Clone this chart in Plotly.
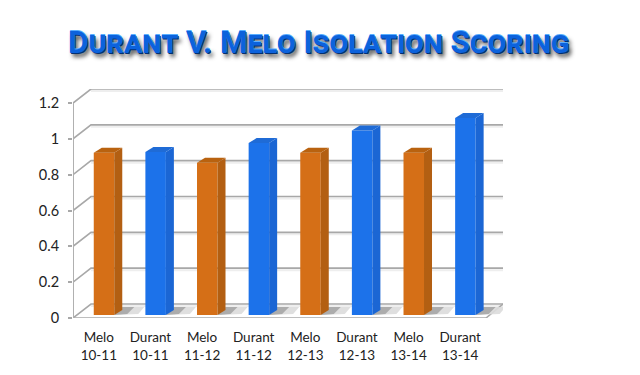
import plotly.graph_objects as go

players = ["Melo", "Durant", "Melo", "Durant", "Melo", "Durant", "Melo", "Durant"]
seasons = ["10-11", "10-11", "11-12", "11-12", "12-13", "12-13", "13-14", "13-14"]
values = [0.905, 0.91, 0.85, 0.96, 0.905, 1.03, 0.905, 1.10]
colors_front = ["#d56f17", "#1c72ea"]
colors_side = ["#b35f12", "#1b66d4"]
colors_top = ["#b9620f", "#1f6bd6"]
y_ticks = [0, 0.2, 0.4, 0.6, 0.8, 1, 1.2]
y_tick_labels = ["0", "0.2", "0.4", "0.6", "0.8", "1", "1.2"]
title_text = "Durant V. Melo Isolation Scoring"

# pixel geometry of the pseudo-3D frame (page offset of 8px is removed from the margins)
PAGE = 8
L, R, B, T = 73, 503, 318, 89
CAT_W = 413 / 8
UNIT_H = 215 / 1.2
px = lambda p: p / CAT_W
py = lambda p: p / UNIT_H
x_max = px(R - L)
y_max = py(B - T)
n = len(values)
DX, DY = px(18), py(14)

fig = go.Figure()
GRID = "#a8a8a8"


def line(xs, ys, color=GRID, width=1.6):
    fig.add_trace(go.Scatter(x=xs, y=ys, mode="lines", xaxis="x", yaxis="y",
                             line=dict(color=color, width=width), hoverinfo="skip",
                             cliponaxis=False, showlegend=False))


def poly(xs, ys, color, opacity=1.0):
    fig.add_trace(go.Scatter(x=xs, y=ys, mode="lines", fill="toself", fillcolor=color,
                             xaxis="x2", yaxis="y2", opacity=opacity,
                             line=dict(width=0, color=color), hoverinfo="skip",
                             cliponaxis=False, showlegend=False))


# back wall, diagonals and floor
for t in y_ticks:
    line([DX, x_max], [t + DY - py(2)] * 2, "#eeeeee", 2)
for t in y_ticks:
    line([0, DX, x_max], [t, t + DY, t + DY])
line([n, x_max], [0, DY])
line([0, n], [0, 0])
line([0, 0], [0, y_ticks[-1]], "#b0b0b0", 2)
for k in range(n + 1):
    line([k, k], [0, -py(5)], "#a8a8a8", 1.4)

# bars
BAR_W = px(20.5)
SIDE_X, SIDE_Y = px(8), py(5)
x_c = [i + 0.5 + px(5.2) for i in range(n)]
base = py(3)
for i, v in enumerate(values):
    kind = i % 2
    x0, x1 = x_c[i] - BAR_W / 2, x_c[i] + BAR_W / 2
    # floor shadow
    poly([x1, x1 + px(24), x1 + px(30), x1 + px(8)], [base, base + py(1), base + py(8), base + py(8)], "#dcdcdc", 0.9)
    poly([x1, x1 + px(13), x1 + px(20), x1 + px(8)], [base, base + py(1), base + py(8), base + py(8)], "#909090", 0.65)
    # side and top face
    poly([x1, x1 + SIDE_X, x1 + SIDE_X, x1], [base, base + SIDE_Y, base + v + SIDE_Y, base + v], colors_side[kind])
    poly([x0, x0 + SIDE_X, x1 + SIDE_X, x1], [base + v, base + v + SIDE_Y, base + v + SIDE_Y, base + v], colors_top[kind])

fig.add_trace(go.Bar(x=x_c, y=values, base=[base] * n, width=BAR_W, xaxis="x2", yaxis="y2",
                     marker=dict(color=[colors_front[i % 2] for i in range(n)], line=dict(width=0)),
                     hoverinfo="skip", showlegend=False))

axis_font = dict(family="Lato, Carlito, sans-serif", size=13.5, color="#222222")
plot_w, plot_h = R - L, B - T
fig.update_layout(
    width=640, height=375, autosize=False,
    paper_bgcolor="white", plot_bgcolor="white",
    margin=dict(l=L - PAGE, r=640 - (R - PAGE), t=T - PAGE, b=375 - (B - PAGE), pad=0),
    showlegend=False,
    xaxis=dict(range=[0, x_max], tickmode="array", tickvals=[i + 0.5 for i in range(n)],
               ticktext=[f"{p}<br>{s}" for p, s in zip(players, seasons)],
               ticks="outside", ticklen=7, tickcolor="rgba(0,0,0,0)",
               showgrid=False, zeroline=False, showline=False, tickfont=axis_font),
    yaxis=dict(range=[0, y_max], tickmode="array", tickvals=y_ticks, ticktext=y_tick_labels,
               ticks="outside", ticklen=4, tickcolor="#a8a8a8", tickwidth=1.5, ticklabelstandoff=6,
               showgrid=False, zeroline=False, showline=False,
               tickfont=dict(family="Lato, Carlito, sans-serif", size=14.5, color="#222222")),
    xaxis2=dict(range=[0, x_max], overlaying="x", visible=False),
    yaxis2=dict(range=[0, y_max], overlaying="y", visible=False),
    annotations=[dict(
        text=title_text, xref="paper", yref="paper", showarrow=False,
        x=(318.5 - L) / plot_w, y=(B - 42) / plot_h, xanchor="center", yanchor="middle",
        font=dict(family="Roboto, 'DejaVu Sans', sans-serif", size=31.4, color="#0c62dc",
                  weight=700, variant="small-caps",
                  shadow="0px -1px 0px #58aeff, 1px 1px 0px #032f70, 3px 4px 4px #555555"),
    )],
)

fig.write_html("out.html")
